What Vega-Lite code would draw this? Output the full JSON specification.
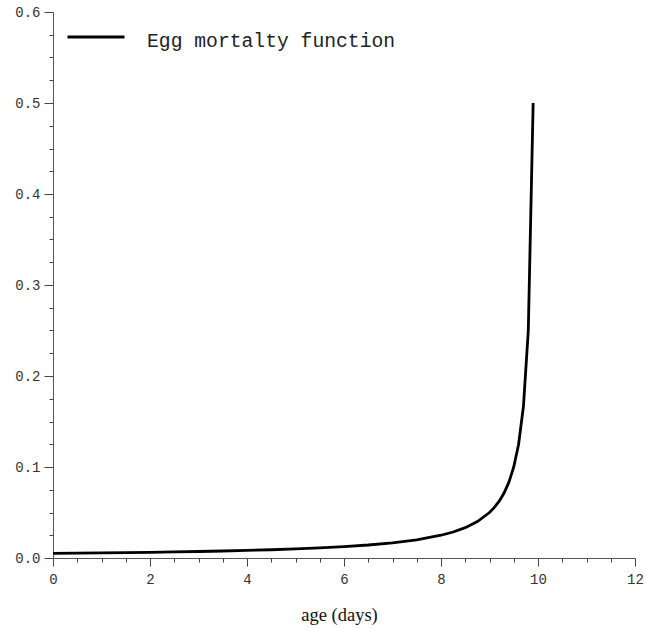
{
  "$schema": "https://vega.github.io/schema/vega-lite/v6.json",
  "width": 582,
  "height": 546,
  "autosize": {"type": "none"},
  "padding": {"left": 53, "top": 12, "right": 11, "bottom": 71},
  "background": "white",
  "config": {"view": {"stroke": null}},
  "data": {
    "values": [
      {"age": 0, "mortality": 0.005, "series": "Egg mortalty function"},
      {"age": 0.5, "mortality": 0.005263, "series": "Egg mortalty function"},
      {"age": 1, "mortality": 0.005556, "series": "Egg mortalty function"},
      {"age": 1.5, "mortality": 0.005882, "series": "Egg mortalty function"},
      {"age": 2, "mortality": 0.00625, "series": "Egg mortalty function"},
      {"age": 2.5, "mortality": 0.006667, "series": "Egg mortalty function"},
      {"age": 3, "mortality": 0.007143, "series": "Egg mortalty function"},
      {"age": 3.5, "mortality": 0.007692, "series": "Egg mortalty function"},
      {"age": 4, "mortality": 0.008333, "series": "Egg mortalty function"},
      {"age": 4.5, "mortality": 0.009091, "series": "Egg mortalty function"},
      {"age": 5, "mortality": 0.01, "series": "Egg mortalty function"},
      {"age": 5.5, "mortality": 0.011111, "series": "Egg mortalty function"},
      {"age": 6, "mortality": 0.0125, "series": "Egg mortalty function"},
      {"age": 6.5, "mortality": 0.014286, "series": "Egg mortalty function"},
      {"age": 7, "mortality": 0.016667, "series": "Egg mortalty function"},
      {"age": 7.5, "mortality": 0.02, "series": "Egg mortalty function"},
      {"age": 8, "mortality": 0.025, "series": "Egg mortalty function"},
      {"age": 8.25, "mortality": 0.028571, "series": "Egg mortalty function"},
      {"age": 8.5, "mortality": 0.033333, "series": "Egg mortalty function"},
      {"age": 8.75, "mortality": 0.04, "series": "Egg mortalty function"},
      {"age": 9, "mortality": 0.05, "series": "Egg mortalty function"},
      {"age": 9.1, "mortality": 0.055556, "series": "Egg mortalty function"},
      {"age": 9.2, "mortality": 0.0625, "series": "Egg mortalty function"},
      {"age": 9.3, "mortality": 0.071429, "series": "Egg mortalty function"},
      {"age": 9.4, "mortality": 0.083333, "series": "Egg mortalty function"},
      {"age": 9.5, "mortality": 0.1, "series": "Egg mortalty function"},
      {"age": 9.6, "mortality": 0.125, "series": "Egg mortalty function"},
      {"age": 9.7, "mortality": 0.166667, "series": "Egg mortalty function"},
      {"age": 9.8, "mortality": 0.25, "series": "Egg mortalty function"},
      {"age": 9.9, "mortality": 0.5, "series": "Egg mortalty function"}
    ]
  },
  "resolve": {"axis": {"x": "independent", "y": "independent"}},
  "layer": [
    {
      "mark": {"type": "line", "strokeWidth": 2.8, "strokeCap": "butt"},
      "encoding": {
        "x": {
          "field": "age", "type": "quantitative",
          "scale": {"domain": [0, 12], "nice": false, "zero": false},
          "axis": {
            "orient": "bottom",
            "values": [0, 2, 4, 6, 8, 10, 12],
            "grid": false,
            "title": "age (days)",
            "titleFont": "Liberation Serif",
            "titleFontSize": 18.5,
            "titleFontWeight": "normal",
            "titleColor": "#111",
            "titlePadding": 19,
            "titleX": 286,
            "labelFont": "Liberation Mono",
            "labelFontSize": 14,
            "labelColor": "#333",
            "labelPadding": 6,
            "tickSize": 8,
            "tickColor": "#444",
            "domainColor": "#555",
            "labelFlush": false,
            "labelOverlap": false
          }
        },
        "y": {
          "field": "mortality", "type": "quantitative",
          "scale": {"domain": [0, 0.6], "nice": false},
          "axis": {
            "orient": "left",
            "values": [0, 0.1, 0.2, 0.3, 0.4, 0.5, 0.6],
            "format": ".1f",
            "grid": false,
            "title": null,
            "labelFont": "Liberation Mono",
            "labelFontSize": 14,
            "labelColor": "#333",
            "labelPadding": 4,
            "tickSize": 9,
            "tickColor": "#444",
            "domainColor": "#555",
            "labelFlush": false,
            "labelOverlap": false
          }
        },
        "color": {
          "field": "series", "type": "nominal",
          "scale": {"range": ["#000000"]},
          "legend": {
            "orient": "none",
            "legendX": 13,
            "legendY": -5,
            "title": null,
            "symbolType": "stroke",
            "symbolSize": 3249,
            "symbolStrokeWidth": 3,
            "symbolStrokeColor": "#000",
            "labelFont": "Liberation Mono",
            "labelFontSize": 19.7,
            "labelColor": "#222",
            "labelOffset": 21,
            "labelLimit": 500,
            "labelBaseline": "alphabetic",
            "encode": {"labels": {"update": {"dy": {"value": 10}}}}
          }
        }
      }
    },
    {
      "mark": {"type": "line", "strokeOpacity": 0},
      "encoding": {
        "x": {
          "field": "age", "type": "quantitative",
          "axis": {
            "orient": "bottom",
            "values": [0.5, 1, 1.5, 2.5, 3, 3.5, 4.5, 5, 5.5, 6.5, 7, 7.5, 8.5, 9, 9.5, 10.5, 11, 11.5],
            "grid": false, "labels": false, "title": null, "domain": false,
            "tickSize": 4, "tickColor": "#444"
          }
        },
        "y": {
          "field": "mortality", "type": "quantitative",
          "axis": {
            "orient": "left",
            "values": [0.025, 0.05, 0.075, 0.125, 0.15, 0.175, 0.225, 0.25, 0.275, 0.325, 0.35, 0.375, 0.425, 0.45, 0.475, 0.525, 0.55, 0.575],
            "grid": false, "labels": false, "title": null, "domain": false,
            "tickSize": 4, "tickColor": "#444"
          }
        }
      }
    }
  ]
}
